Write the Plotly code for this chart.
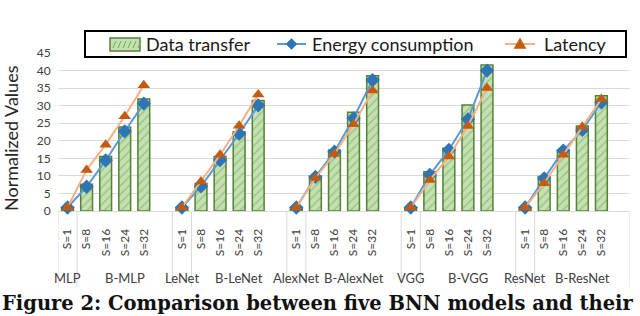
import plotly.graph_objects as go

groups = ["MLP", "LeNet", "AlexNet", "VGG", "ResNet"]
sizes = ["S=1", "S=8", "S=16", "S=24", "S=32"]
series_names = ["Data transfer", "Energy consumption", "Latency"]

data_transfer = [1, 7.6, 15.5, 23.9, 31.9,
                 1, 7.8, 15.5, 22.6, 31.5,
                 1, 9.9, 17.4, 28.1, 38.5,
                 1, 11.2, 17.9, 30.2, 41.6,
                 1, 9.8, 17.2, 24.2, 32.8]
energy = [1, 6.9, 14.4, 22.7, 30.6,
          1, 7.0, 14.5, 22.0, 30.1,
          1, 9.7, 16.9, 26.4, 37.3,
          1, 10.3, 17.4, 26.1, 40.0,
          1, 9.3, 17.2, 23.1, 30.9]
latency = [1, 11.7, 18.9, 27.0, 35.8,
           1, 8.4, 16.0, 24.3, 33.2,
           1, 9.4, 16.2, 24.7, 34.3,
           1, 8.8, 15.5, 24.2, 35.0,
           1, 7.9, 16.0, 24.0, 31.9]

BAR_FILL, BAR_LINE, BAR_HATCH = "#C5E0B4", "#548235", "#70AD47"
EN_LINE, EN_MARK = "#5B9BD5", "#2E75B6"
LA_LINE, LA_MARK = "#F4B183", "#C55A11"
FONT = "Lato"
TXT = "#404040"

SLOT = 6  # 5 sizes + one blank slot per group
xpos = [g * SLOT + i for g in range(len(groups)) for i in range(len(sizes))]

def with_gaps(vals):
    xs, ys = [], []
    for g in range(len(groups)):
        for i in range(len(sizes)):
            xs.append(g * SLOT + i)
            ys.append(vals[g * len(sizes) + i])
        xs.append(g * SLOT + len(sizes))
        ys.append(None)
    return xs, ys

fig = go.Figure()
fig.add_trace(go.Bar(
    x=xpos, y=data_transfer, name=series_names[0], width=0.62, showlegend=False,
    marker=dict(color=BAR_FILL, line=dict(color=BAR_LINE, width=1.5),
                pattern=dict(shape="/", fgcolor=BAR_HATCH, size=6, solidity=0.25)),
))
ex, ey = with_gaps(energy)
fig.add_trace(go.Scatter(
    x=ex, y=ey, name=series_names[1], mode="lines+markers", showlegend=False,
    line=dict(color=EN_LINE, width=2),
    marker=dict(symbol="diamond", size=11, color=EN_MARK),
    connectgaps=False, cliponaxis=False,
))
lx, ly = with_gaps(latency)
fig.add_trace(go.Scatter(
    x=lx, y=ly, name=series_names[2], mode="lines+markers", showlegend=False,
    line=dict(color=LA_LINE, width=2),
    marker=dict(symbol="triangle-up", size=11, color=LA_MARK),
    connectgaps=False, cliponaxis=False,
))

W, H = 640, 316
L, R, T, B = 58, 10, 53, 105
ph = H - T - B
pw = W - L - R
AX_Y = H - B  # pixel row of the x axis

def px(x):
    return (x - L) / pw

def py(y):
    return (AX_Y - y) / ph

shapes = []
annotations = []

# category separators
sep_x = []
for g in range(len(groups)):
    sep_x += [g * SLOT - 0.5, g * SLOT + 0.5]
sep_x.append(len(groups) * SLOT - 0.5)
for sx in sep_x:
    shapes.append(dict(type="line", xref="x", yref="paper", x0=sx, x1=sx,
                       y0=0, y1=py(287), line=dict(color="#D9D9D9", width=1)))

for g, name in enumerate(groups):
    for xx, t in ((g * SLOT, name), (g * SLOT + 3, "B-" + name)):
        annotations.append(dict(x=xx, y=py(278), xref="x", yref="paper",
                                text=t, showarrow=False, yanchor="middle",
                                font=dict(family=FONT, size=13, color=TXT)))

# custom legend box
def pshape(**kw):
    d = dict(xref="paper", yref="paper")
    d.update(kw)
    return d

shapes.append(pshape(type="rect", x0=px(85), x1=px(626), y0=py(31), y1=py(57),
                     line=dict(color="black", width=2), fillcolor="white", layer="above"))
# bar swatch
shapes.append(pshape(type="rect", x0=px(110), x1=px(140), y0=py(38), y1=py(51),
                     line=dict(color=BAR_LINE, width=1.5), fillcolor=BAR_FILL, layer="above"))
for hx in range(113, 139, 5):
    shapes.append(pshape(type="line", x0=px(hx), x1=px(hx + 3), y0=py(48), y1=py(41),
                         line=dict(color=BAR_HATCH, width=1), layer="above"))
# energy swatch
cy = 44
shapes.append(pshape(type="line", x0=px(277), x1=px(306), y0=py(cy), y1=py(cy),
                     line=dict(color=EN_LINE, width=2), layer="above"))
cx = 291.5
d = 5.5
shapes.append(pshape(type="path",
                     path=f"M {px(cx)} {py(cy - d)} L {px(cx + d)} {py(cy)} L {px(cx)} {py(cy + d)} L {px(cx - d)} {py(cy)} Z",
                     fillcolor=EN_MARK, line=dict(color=EN_MARK, width=0.5), layer="above"))
# latency swatch
shapes.append(pshape(type="line", x0=px(505), x1=px(535), y0=py(cy), y1=py(cy),
                     line=dict(color=LA_LINE, width=2), layer="above"))
cx = 520
shapes.append(pshape(type="path",
                     path=f"M {px(cx)} {py(cy - 6)} L {px(cx + 6)} {py(cy + 4.5)} L {px(cx - 6)} {py(cy + 4.5)} Z",
                     fillcolor=LA_MARK, line=dict(color=LA_MARK, width=0.5), layer="above"))

for tx, t in ((145, series_names[0]), (311, series_names[1]), (543, series_names[2])):
    annotations.append(dict(x=px(tx), y=py(cy), xref="paper", yref="paper",
                            text=t, showarrow=False, xanchor="left", yanchor="middle",
                            xshift=-1,
                            font=dict(family=FONT, size=18, color="#1a1a1a")))

# y-axis title
annotations.append(dict(x=px(11), y=py(138), xref="paper", yref="paper",
                        text="Normalized Values", showarrow=False, textangle=-90,
                        xanchor="center", yanchor="middle",
                        font=dict(family=FONT, size=18, color="#262626")))

annotations.append(dict(x=px(0), y=py(317), xref="paper", yref="paper",
                        text="<b>Figure 2: Comparison between five BNN models and their</b>",
                        showarrow=False, xanchor="left", yanchor="bottom",
                        font=dict(family="DejaVu Serif", size=19.5, color="#111111")))

fig.update_layout(
    width=W, height=H,
    margin=dict(l=L, r=R, t=T, b=B),
    paper_bgcolor="white", plot_bgcolor="white",
    bargap=0.4, showlegend=False,
    shapes=shapes, annotations=annotations,
    xaxis=dict(range=[-0.5, len(groups) * SLOT - 0.5],
               tickvals=xpos, ticktext=sizes * len(groups), tickangle=-90,
               tickfont=dict(family=FONT, size=12, color=TXT),
               ticks="outside", ticklen=12, tickcolor="rgba(0,0,0,0)",
               showgrid=False, zeroline=False, showline=False, fixedrange=True,
               automargin=False),
    yaxis=dict(range=[0, 45], dtick=5, showgrid=True, gridcolor="#D9D9D9",
               zeroline=True, zerolinecolor="#D9D9D9", zerolinewidth=1,
               ticks="outside", ticklen=4, tickcolor="rgba(0,0,0,0)",
               tickfont=dict(family=FONT, size=12, color=TXT), automargin=False,
               fixedrange=True),
)

fig.write_html("out.html", config={"displayModeBar": False},
               post_script="document.body.style.margin='0px';document.body.style.overflow='hidden';")
